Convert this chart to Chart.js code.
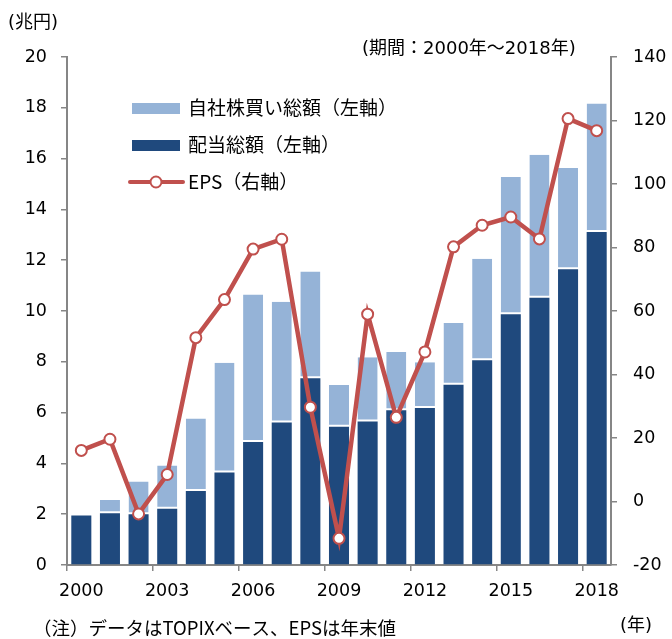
<!DOCTYPE html>
<html>
<head>
<meta charset="utf-8">
<script src="https://cdn.jsdelivr.net/npm/chart.js@4/dist/chart.umd.min.js"></script>
<style>
html,body{margin:0;padding:0;background:#fff;}
#wrap{position:relative;width:672px;height:639px;}
</style>
</head>
<body>
<div id="wrap"><canvas id="c" width="672" height="639"></canvas></div>
<script>
const years = ['2000','2001','2002','2003','2004','2005','2006','2007','2008','2009','2010','2011','2012','2013','2014','2015','2016','2017','2018'];
const dividends = [1.95, 2.04, 2.00, 2.21, 2.91, 3.64, 4.84, 5.61, 7.35, 5.44, 5.65, 6.09, 6.18, 7.10, 8.06, 9.87, 10.52, 11.64, 13.11];
const buybacks = [0, 0.52, 1.29, 1.71, 2.86, 4.32, 5.81, 4.75, 4.21, 1.65, 2.53, 2.30, 1.80, 2.43, 4.00, 5.41, 5.63, 3.99, 5.06];
const eps = [16.1, 19.6, -3.9, 8.5, 51.6, 63.6, 79.5, 82.6, 29.7, -11.6, 59.0, 26.5, 47.1, 80.2, 87.0, 89.6, 82.7, 120.6, 116.8];
const shownYears = ['2000','2003','2006','2009','2012','2015','2018'];
const leftTicks = [0,2,4,6,8,10,12,14,16,18,20];
const rightTicks = [-20,0,20,40,60,80,100,120,140];
const seriesNames = ['自社株買い総額（左軸）','配当総額（左軸）','EPS（右軸）'];

const DARK = '#1F497D', LIGHT = '#95B3D7', RED = '#C0504D', AXIS = '#868686';
const FONT = '"DejaVu Sans", "Noto Sans CJK JP", sans-serif';
const JFONT = '"Noto Sans CJK JP", sans-serif';

const textPlugin = {
  id: 'texts',
  afterDraw(chart) {
    const ctx = chart.ctx;
    ctx.save();
    ctx.fillStyle = '#000';
    ctx.textBaseline = 'middle';
    ctx.textAlign = 'left';
    ctx.font = '18px ' + FONT;
    ctx.fillText('(兆円)', 8, 23);
    ctx.fillText('(期間：2000年～2018年)', 362, 49);
    ctx.fillText('(年)', 620, 626);
    ctx.font = '18.5px ' + JFONT;
    ctx.fillText('（注）データはTOPIXベース、EPSは年末値', 33, 628);
    // legend
    ctx.font = '19px ' + JFONT;
    const tx = 188;
    const rows = [108, 145, 182];
    ctx.fillStyle = LIGHT;
    ctx.fillRect(132, rows[0]-5, 48, 11);
    ctx.fillStyle = DARK;
    ctx.fillRect(132, rows[1]-5, 48, 11);
    ctx.strokeStyle = RED; ctx.lineWidth = 4; ctx.lineCap = 'round';
    ctx.beginPath(); ctx.moveTo(130, rows[2]); ctx.lineTo(183, rows[2]); ctx.stroke();
    ctx.beginPath(); ctx.arc(156, rows[2], 5.5, 0, Math.PI*2);
    ctx.fillStyle = '#fff'; ctx.fill(); ctx.lineWidth = 2; ctx.stroke();
    ctx.fillStyle = '#000';
    seriesNames.forEach((n,i)=>ctx.fillText(n, tx, rows[i]));
    ctx.restore();
  }
};

new Chart(document.getElementById('c'), {
  data: {
    labels: years,
    datasets: [
      { type:'bar', label: seriesNames[1], data: dividends, yAxisID:'y', order:1,
        backgroundColor: DARK, borderWidth: 0, stack:'s' },
      { type:'bar', label: seriesNames[0], data: buybacks, yAxisID:'y', order:2,
        backgroundColor: LIGHT, borderColor:'#ffffff', borderWidth:{bottom:2, top:0, left:0, right:0}, borderSkipped:false, stack:'s' },
      { type:'line', label: seriesNames[2], data: eps, yAxisID:'y1', order:0,
        borderColor: RED, borderWidth: 4.5, pointRadius: 5.5, pointBorderWidth: 2,
        pointBackgroundColor:'#fff', pointBorderColor: RED, tension:0, stack:'line' }
    ]
  },
  options: {
    responsive: false,
    animation: false,
    events: [],
    layout: { padding: { top: 57, left: 0, right: 0, bottom: 0 } },
    plugins: { legend: { display:false }, tooltip:{ enabled:false } },
    datasets: { bar: { barPercentage: 0.7, categoryPercentage: 1.0 } },
    scales: {
      x: {
        stacked: true, offset: true,
        grid: { offset: true, drawOnChartArea: false, tickLength: 6,
          color: (c) => (c.index % 3 === 0 ? AXIS : 'rgba(0,0,0,0)'), lineWidth: 1.5 },
        border: { color: AXIS, width: 2 },
        ticks: { autoSkip:false, maxRotation:0, padding: 10, color:'#000',
          font: { family: FONT, size: 17.5 },
          callback: function(v, i){ const l = years[i]; return shownYears.includes(l) ? l : ''; } },
        afterFit(s){ s.height = 74; }
      },
      y: {
        position:'left', stacked: true, min: 0, max: 20,
        grid: { drawOnChartArea:false, tickLength: 6, color: AXIS, lineWidth: 1.5 },
        border: { color: AXIS, width: 2 },
        afterBuildTicks(s){ s.ticks = leftTicks.map(v=>({value:v})); },
        ticks: { padding: 14, color:'#000', font:{ family: FONT, size: 17.5 } },
        afterFit(s){ s.width = 67; }
      },
      y1: {
        position:'right', min: -20, max: 140,
        grid: { drawOnChartArea:false, tickLength: 6, color: AXIS, lineWidth: 1.5 },
        border: { color: AXIS, width: 2 },
        afterBuildTicks(s){ s.ticks = rightTicks.map(v=>({value:v})); },
        ticks: { padding: 16, color:'#000', font:{ family: FONT, size: 17.5 } },
        afterFit(s){ s.width = 61; }
      }
    }
  },
  plugins: [textPlugin]
});
</script>
</body>
</html>
